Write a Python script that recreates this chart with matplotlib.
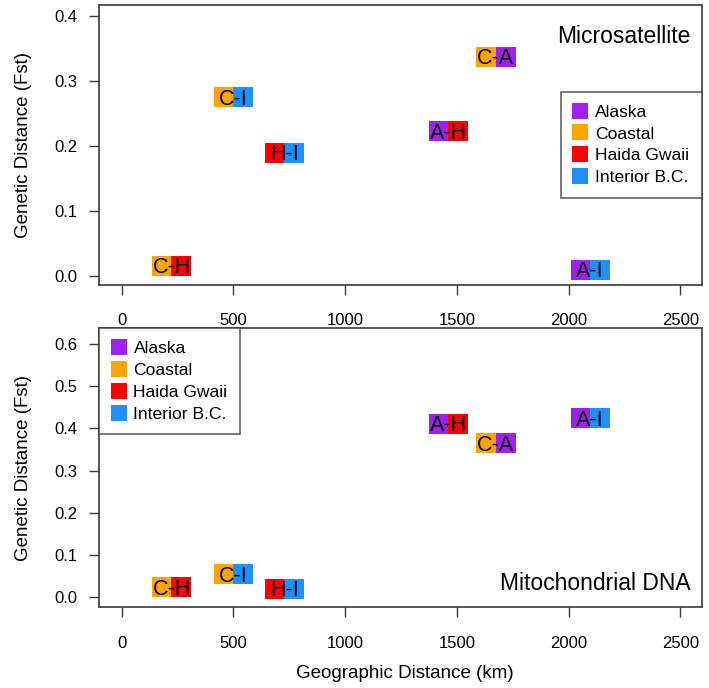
import matplotlib
matplotlib.use("Agg")
import matplotlib.pyplot as plt
from matplotlib.transforms import offset_copy
from matplotlib.lines import Line2D

plt.rcParams['font.family'] = ['Liberation Sans', 'DejaVu Sans']

# region colours
regions = ['Alaska', 'Coastal', 'Haida Gwaii', 'Interior B.C.']
codes = ['A', 'C', 'H', 'I']
colors = ['#A020F0', '#FFA500', '#FF0000', '#1E90FF']
col = dict(zip(codes, colors))

# pairwise comparisons
pairs = ['C-A', 'A-H', 'C-H', 'C-I', 'H-I', 'A-I']
geo_km = [1675, 1463, 223, 500, 728, 2097]
fst_micro = [0.337, 0.222, 0.015, 0.275, 0.189, 0.009]
fst_mtdna = [0.365, 0.411, 0.024, 0.055, 0.020, 0.424]

fig = plt.figure(figsize=(7.09, 6.88), dpi=100)
W, H = 709, 688
ax1 = fig.add_axes([99/W, 1-285/H, 602.7/W, 280/H])
ax2 = fig.add_axes([99/W, 1-607.3/H, 602.7/W, 279/H])

spine_col = '#3a3a3a'


def draw_panel(ax, yvals, ylim, yticks, title, title_y, legend_loc, legend_anchor):
    # two coloured squares side by side with the pair label on top
    left = offset_copy(ax.transData, fig=fig, x=-9.6, y=0, units='dots')
    right = offset_copy(ax.transData, fig=fig, x=9.6, y=0, units='dots')
    txt = offset_copy(ax.transData, fig=fig, x=0, y=-7.6, units='dots')
    for p, x, y in zip(pairs, geo_km, yvals):
        a, b = p.split('-')
        ax.plot(x, y, marker='s', ms=13.8, mew=0, color=col[a], transform=left)
        ax.plot(x, y, marker='s', ms=13.8, mew=0, color=col[b], transform=right)
        ax.text(x, y, p, ha='center', va='baseline', fontsize=15.5,
                color='black', transform=txt)
    ax.set_xlim(-101.6, 2596)
    ax.set_ylim(*ylim)
    ax.set_xticks([0, 500, 1000, 1500, 2000, 2500])
    ax.set_yticks(yticks)
    ax.set_yticklabels(['%.1f' % t for t in yticks])
    ax.tick_params(direction='out', length=7.5, width=1, color=spine_col,
                   labelsize=12)
    ax.tick_params(axis='x', pad=13)
    ax.tick_params(axis='y', pad=8)
    for s in ax.spines.values():
        s.set_color(spine_col)
        s.set_linewidth(1.2)
    ax.text(0.981, title_y, title, transform=ax.transAxes, ha='right',
            va='center', fontsize=16.5)
    handles = [Line2D([], [], ls='none', marker='s', ms=11.5, mew=0, color=c)
               for c in colors]
    leg = ax.legend(handles, regions, loc=legend_loc, bbox_to_anchor=legend_anchor,
                    borderaxespad=0, fontsize=12.6, frameon=True, fancybox=False,
                    handlelength=0.8, handletextpad=0.45, labelspacing=0.38,
                    borderpad=0.72)
    leg.get_frame().set_edgecolor(spine_col)
    leg.get_frame().set_linewidth(1.2)


draw_panel(ax1, fst_micro, (-0.0145, 0.4165), [0.0, 0.1, 0.2, 0.3, 0.4],
           'Microsatellite', 0.886, 'upper right', (1.0, 0.690))
draw_panel(ax2, fst_mtdna, (-0.0237, 0.637), [0.0, 0.1, 0.2, 0.3, 0.4, 0.5, 0.6],
           'Mitochondrial DNA', 0.087, 'upper left', (0.0, 1.0))

fig.text(24/W, 1-145/H, 'Genetic Distance (Fst)', rotation=90, ha='center',
         va='center', fontsize=13.5)
fig.text(24/W, 1-468/H, 'Genetic Distance (Fst)', rotation=90, ha='center',
         va='center', fontsize=13.5)
fig.text(405/W, 1-673/H, 'Geographic Distance (km)', ha='center', va='center',
         fontsize=13.5)

fig.savefig('out.png', dpi=100)
